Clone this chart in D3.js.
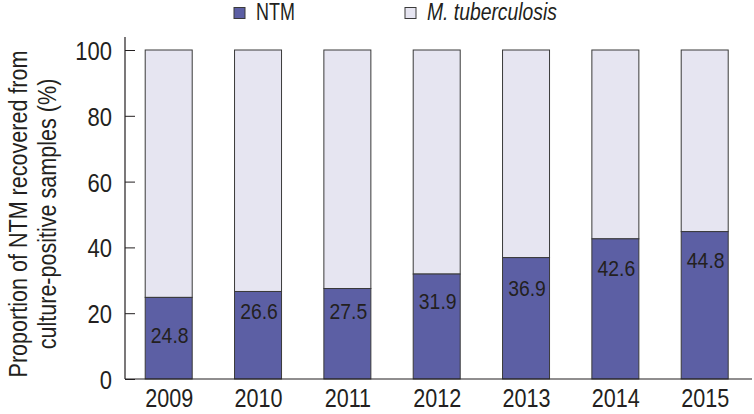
<!DOCTYPE html>
<html>
<head>
<meta charset="utf-8">
<script src="https://cdn.jsdelivr.net/npm/d3@7"></script>
<style>
  html, body { margin: 0; padding: 0; background: #fff; }
  svg { display: block; }
  text { font-family: "Liberation Sans", Arial, sans-serif; fill: #231f20; }
</style>
</head>
<body>
<svg id="chart" width="754" height="414"></svg>
<script>
const years = ["2009", "2010", "2011", "2012", "2013", "2014", "2015"];
const ntm = [24.8, 26.6, 27.5, 31.9, 36.9, 42.6, 44.8];
const yTicks = [0, 20, 40, 60, 80, 100];
const seriesNames = ["NTM", "M. tuberculosis"];
const labelOffsets = [38, 20, 22, 27, 30, 29, 28];

const colors = { NTM: "#5c5fa4", MTB: "#e6e5f1", stroke: "#3a3a3a" };

function condense(sel, factor) {
  sel.each(function () {
    const len = this.getComputedTextLength();
    d3.select(this).attr("textLength", len * factor).attr("lengthAdjust", "spacingAndGlyphs");
  });
}

const svg = d3.select("#chart");
const axisX = 125;
const y = d3.scaleLinear().domain([0, 100]).range([379, 50]);
const x = d3.scalePoint().domain(years).range([168.7, 704.7]);
const barW = 47;

// bars
const g = svg.append("g");
years.forEach((yr, i) => {
  const cx = x(yr);
  g.append("rect")
    .attr("x", cx - barW / 2).attr("width", barW)
    .attr("y", y(100)).attr("height", y(ntm[i]) - y(100))
    .attr("fill", colors.MTB).attr("stroke", colors.stroke).attr("stroke-width", 1);
  g.append("rect")
    .attr("x", cx - barW / 2).attr("width", barW)
    .attr("y", y(ntm[i])).attr("height", y(0) - y(ntm[i]))
    .attr("fill", colors.NTM).attr("stroke", colors.stroke).attr("stroke-width", 1);
  g.append("text").attr("class", "lbl")
    .attr("x", cx + 1).attr("y", y(ntm[i]) + labelOffsets[i] + 8)
    .attr("text-anchor", "middle").attr("font-size", 22)
    .text(ntm[i].toFixed(1));
});
condense(g.selectAll("text.lbl"), 0.88);

// y axis
const yAxis = d3.axisLeft(y).tickValues(yTicks).tickSize(-10).tickPadding(13);
const ya = svg.append("g").attr("transform", `translate(${axisX},0)`).call(yAxis);
ya.select(".domain").remove();
ya.selectAll(".tick line").attr("stroke", "#231f20");
ya.selectAll(".tick text").attr("font-size", 26.5).attr("dy", "0.36em")
  .style("font-family", "'Liberation Sans', Arial, sans-serif").attr("fill", "#231f20");
condense(ya.selectAll(".tick text"), 0.83);
svg.append("line").attr("x1", axisX).attr("x2", axisX).attr("y1", 37).attr("y2", y(0))
  .attr("stroke", "#231f20").attr("stroke-width", 1.2);

// x axis
const xAxis = d3.axisBottom(x).tickSize(0).tickPadding(10);
const xa = svg.append("g").attr("transform", `translate(0,${y(0)})`).call(xAxis);
xa.select(".domain").remove();
xa.selectAll(".tick text").attr("font-size", 26)
  .style("font-family", "'Liberation Sans', Arial, sans-serif").attr("fill", "#231f20");
condense(xa.selectAll(".tick text"), 0.83);
svg.append("line").attr("x1", axisX).attr("x2", 752).attr("y1", y(0)).attr("y2", y(0))
  .attr("stroke", "#231f20").attr("stroke-width", 1.2);

// y title
const title = svg.append("g").attr("transform", "translate(0,214) rotate(-90)");
title.append("text").attr("font-size", 25.5).attr("text-anchor", "middle")
  .attr("x", 0).attr("y", 26.5).text("Proportion of NTM recovered from");
title.append("text").attr("font-size", 25.5).attr("text-anchor", "middle")
  .attr("x", 0).attr("y", 55.5).text("culture-positive samples (%)");
condense(title.selectAll("text"), 0.845);

// legend
const legend = [
  { name: seriesNames[0], fill: colors.NTM, sx: 234, tx: 256, italic: false, f: 0.78 },
  { name: seriesNames[1], fill: colors.MTB, sx: 405, tx: 427, italic: true, f: 0.84 }
];
legend.forEach(l => {
  svg.append("rect").attr("x", l.sx).attr("y", 7.5).attr("width", 11).attr("height", 11)
    .attr("fill", l.fill).attr("stroke", colors.stroke).attr("stroke-width", 1);
  const t = svg.append("text").attr("x", l.tx).attr("y", 20).attr("font-size", 23)
    .attr("font-style", l.italic ? "italic" : "normal").text(l.name);
  condense(t, l.f);
});
</script>
</body>
</html>
